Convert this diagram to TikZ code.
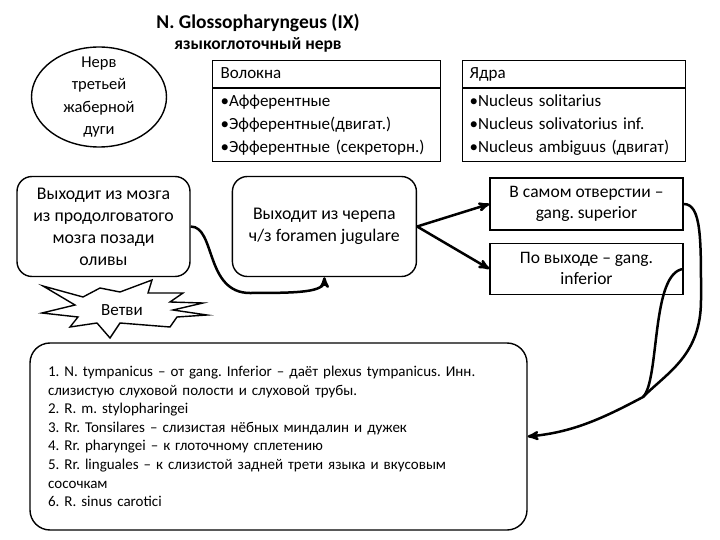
\documentclass[tikz,border=0pt]{standalone}
\usepackage{fontspec}
\setmainfont{Carlito}
\frenchspacing
\usetikzlibrary{positioning, arrows, shapes, shapes.multipart}

\begin{document}
\begin{tikzpicture}[x=1pt, y=-1pt,
  every node/.style={font=\fontsize{17.8}{22}\selectfont},
  roundbox/.style={draw, line width=1.4pt, rounded corners=15pt, align=center, minimum height=100pt},
  flatbox/.style={draw, line width=1.4pt, align=center, minimum width=193pt, font=\fontsize{17.5}{21}\selectfont},
  listbox/.style={draw, line width=1.4pt, rectangle split, rectangle split parts=2, align=left, inner xsep=8pt, inner ysep=1.5pt, font=\fontsize{17}{23}\selectfont},
  link/.style={line width=2.5pt, ->, >=stealth'}]
\useasboundingbox (0,0) rectangle (720,540);

\node [font=\bfseries\fontsize{17.5}{21}\selectfont, align=center] (title) at (258,33) {{\fontsize{19.5}{21}\selectfont N. Glossopharyngeus (IX)}\\ языкоглоточный нерв};

\node [draw, ellipse, line width=1.4pt, minimum width=135pt, minimum height=100pt, inner ysep=-17pt, align=center, font=\fontsize{16.5}{22.5}\selectfont] (arch) at (99,97) {Нерв\\ третьей\\ жаберной\\ дуги};

\node [listbox, text width=212pt, anchor=north west] (fibres) at (212,60) {\strut Волокна\nodepart{two}\strut•Афферентные\\ \strut•Эфферентные(двигат.)\\ \strut•Эфферентные (секреторн.)};
\node [listbox, text width=209pt, inner xsep=7pt, anchor=north west] (nuclei) at (462,60) {\strut Ядра\nodepart{two}\strut•Nucleus solitarius\\ \strut•Nucleus solivatorius inf.\\ \strut•Nucleus ambiguus (двигат)};

\node [roundbox, minimum width=173pt] (exit) at (103.5,226.5) {Выходит из мозга\\ из продолговатого\\ мозга позади\\ оливы};
\node [roundbox, minimum width=184pt, right=41pt of exit] (cranium) {Выходит из черепа\\ ч/з foramen jugulare};

\node [flatbox, minimum height=52pt] (superior) at (586.5,204) {В самом отверстии –\\ gang. superior};
\node [flatbox, minimum height=51pt, below=12pt of superior] (inferior) {По выходе – gang.\\ inferior};

% starburst
\draw [line width=1.4pt, fill=white] (43,286) -- (83,297) -- (100,288) -- (120,292) -- (152,280) -- (148,293) -- (183,293) -- (170,302) -- (203,303) -- (173,310) -- (207,315) -- (177,317) -- (170,327) -- (120,323) -- (110,338) -- (97,323) -- (70,327) -- (78,317) -- (42,313) -- (75,305) -- cycle;
\node [font=\fontsize{17}{20}\selectfont] (rami) at (122,310) {Ветви};

\node [draw, line width=1.4pt, rounded corners=20pt, minimum width=497pt, minimum height=187pt, text width=461pt, inner xsep=18pt, align=left, font=\fontsize{15}{18.6}\selectfont] (ramilist) at (278.5,436.5) {1. N. tympanicus – от gang. Inferior – даёт plexus tympanicus. Инн.\\ слизистую слуховой полости и слуховой трубы.\\ 2. R. m. stylopharingei\\ 3. Rr. Tonsilares – слизистая нёбных миндалин и дужек\\ 4. Rr. pharyngei – к глоточному сплетению\\ 5. Rr. linguales – к слизистой задней трети языка и вкусовым\\ сосочкам\\ 6. R. sinus carotici};

\coordinate (dip) at (250,293);
\coordinate (swing) at (701,300);
\coordinate (merge) at (643,397);

\draw [link] (exit.east) .. controls +(25,0) and +(-45,0) .. (dip) .. controls +(50,0) and +(0,15) .. (cranium.south);
\draw [link] (cranium.east) -- (superior.west);
\draw [link] (cranium.east) -- (inferior.west);
\draw [link] (superior.east) .. controls +(18,0) and +(0,-60) .. (swing) .. controls +(0,55) and +(25,-25) .. (merge) .. controls +(-43,23) and +(43,-4) .. (ramilist.east);
\draw [line width=2.5pt] (inferior.east) .. controls +(-33,3) and +(17,-17) .. (merge);
\end{tikzpicture}
\end{document}
